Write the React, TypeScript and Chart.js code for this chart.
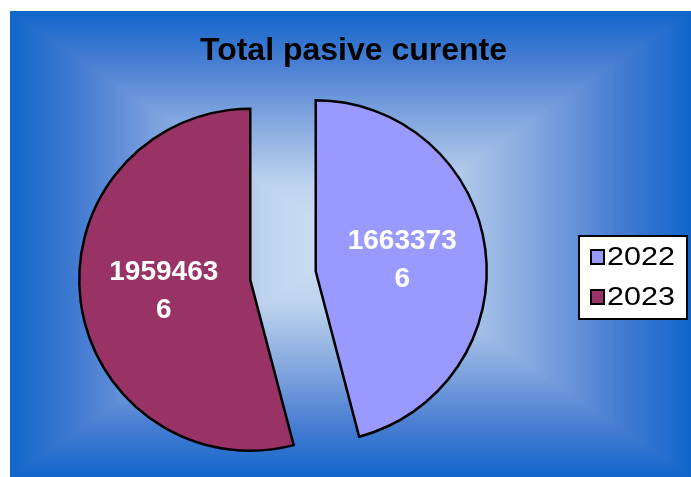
import React, { useEffect, useRef } from "react";
import { Chart, registerables } from "chart.js";

Chart.register(...registerables);

const TITLE = "Total pasive curente";
const CATEGORIES = ["2022", "2023"];
const VALUES = [16633736, 19594636];
const COLORS = ["#9999ff", "#993366"];

const W = 691;
const H = 477;
const EXPLODE = 33;
const RADIUS = 171;

// background gradient stops: [distance from centre (0..1), r, g, b]
const BG_STOPS: number[][] = [
  [0, 206, 226, 245],
  [0.25, 190, 212, 238],
  [0.55, 128, 164, 222],
  [0.78, 72, 126, 210],
  [1, 17, 102, 204],
];

function bgColor(t: number): number[] {
  for (let i = 1; i < BG_STOPS.length; i++) {
    const a = BG_STOPS[i - 1], b = BG_STOPS[i];
    if (t <= b[0]) {
      const f = (t - a[0]) / (b[0] - a[0]);
      return [a[1] + (b[1] - a[1]) * f, a[2] + (b[2] - a[2]) * f, a[3] + (b[3] - a[3]) * f];
    }
  }
  const l = BG_STOPS[BG_STOPS.length - 1];
  return [l[1], l[2], l[3]];
}

function drawBackground(ctx: CanvasRenderingContext2D) {
  const x0 = 10, y0 = 11, x1 = 691, y1 = 477;
  const cx = (x0 + x1) / 2, cy = (y0 + y1) / 2;
  const hw = (x1 - x0) / 2, hh = (y1 - y0) / 2;
  const img = ctx.createImageData(W, H);
  const d = img.data;
  for (let y = 0; y < H; y++) {
    for (let x = 0; x < W; x++) {
      const k = (y * W + x) * 4;
      if (x < x0 || y < y0) {
        d[k] = 255; d[k + 1] = 255; d[k + 2] = 255; d[k + 3] = 255;
        continue;
      }
      const t = Math.min(1, Math.max(Math.abs(x + 0.5 - cx) / hw, Math.abs(y + 0.5 - cy) / hh));
      const c = bgColor(t);
      d[k] = c[0]; d[k + 1] = c[1]; d[k + 2] = c[2]; d[k + 3] = 255;
    }
  }
  ctx.putImageData(img, 0, 0);
}

const customPlugin = {
  id: "customPie",
  beforeDraw(chart: any) {
    drawBackground(chart.ctx);
  },
  beforeDatasetsDraw(chart: any) {
    const ctx = chart.ctx as CanvasRenderingContext2D;
    const meta = chart.getDatasetMeta(0);
    meta.data.forEach((arc: any) => {
      const midA = (arc.startAngle + arc.endAngle) / 2;
      ctx.save();
      ctx.translate(Math.cos(midA) * EXPLODE, Math.sin(midA) * EXPLODE);
      arc.draw(ctx);
      ctx.restore();
    });
    return false;
  },
  afterDraw(chart: any) {
    const ctx = chart.ctx as CanvasRenderingContext2D;
    const meta = chart.getDatasetMeta(0);
    // value labels
    ctx.save();
    ctx.fillStyle = "#ffffff";
    ctx.font = "bold 28px 'Liberation Sans', Arial, sans-serif";
    ctx.textAlign = "center";
    ctx.textBaseline = "alphabetic";
    meta.data.forEach((arc: any, i: number) => {
      const midA = (arc.startAngle + arc.endAngle) / 2;
      const dist = EXPLODE + 0.51 * arc.outerRadius;
      const px = arc.x + Math.cos(midA) * dist;
      const py = arc.y + Math.sin(midA) * dist;
      const s = String(chart.data.datasets[0].data[i]);
      const lines = [s.slice(0, 7), s.slice(7)];
      ctx.fillText(lines[0], px, py - 19 + 8);
      ctx.fillText(lines[1], px, py + 19 + 8);
    });
    ctx.restore();

    // title
    ctx.save();
    ctx.fillStyle = "#000000";
    ctx.font = "bold 32px 'Liberation Sans', Arial, sans-serif";
    ctx.textAlign = "center";
    ctx.textBaseline = "alphabetic";
    ctx.fillText(TITLE, 353.5, 60);
    ctx.restore();

    // legend
    ctx.save();
    ctx.fillStyle = "#ffffff";
    ctx.fillRect(578, 235, 110, 85);
    ctx.strokeStyle = "#000000";
    ctx.lineWidth = 2;
    ctx.strokeRect(579, 236, 108, 83);
    const labels = chart.data.labels as string[];
    const colors = chart.data.datasets[0].backgroundColor as string[];
    const rowsY = [265, 305];
    labels.forEach((lab, i) => {
      const base = rowsY[i];
      ctx.fillStyle = colors[i];
      ctx.fillRect(591, base - 15, 13, 14);
      ctx.strokeStyle = "#000000";
      ctx.lineWidth = 2;
      ctx.strokeRect(591, base - 15, 13, 14);
      ctx.save();
      ctx.fillStyle = "#000000";
      ctx.font = "25px 'Liberation Sans', Arial, sans-serif";
      ctx.textAlign = "left";
      ctx.textBaseline = "alphabetic";
      ctx.translate(607, base);
      ctx.scale(1.22, 1);
      ctx.fillText(lab, 0, 0);
      ctx.restore();
    });
    ctx.restore();
  },
};

export default function App() {
  const ref = useRef<HTMLCanvasElement | null>(null);
  useEffect(() => {
    if (!ref.current) return;
    const chart = new Chart(ref.current, {
      type: "pie",
      data: {
        labels: CATEGORIES,
        datasets: [
          {
            data: VALUES,
            backgroundColor: COLORS,
            borderColor: "#000000",
            borderWidth: 2.5,
            borderJoinStyle: "miter",
            radius: RADIUS,
          } as any,
        ],
      },
      options: {
        responsive: false,
        animation: false,
        devicePixelRatio: 1,
        layout: { padding: { left: 0, right: 125, top: 74, bottom: 0 } },
        plugins: {
          legend: { display: false },
          title: { display: false },
          tooltip: { enabled: false },
        },
        events: [],
      } as any,
      plugins: [customPlugin],
    });
    return () => chart.destroy();
  }, []);
  return (
    <div style={{ position: "absolute", left: 0, top: 0, width: W, height: H }}>
      <canvas ref={ref} width={W} height={H} style={{ display: "block", width: W, height: H }} />
    </div>
  );
}
